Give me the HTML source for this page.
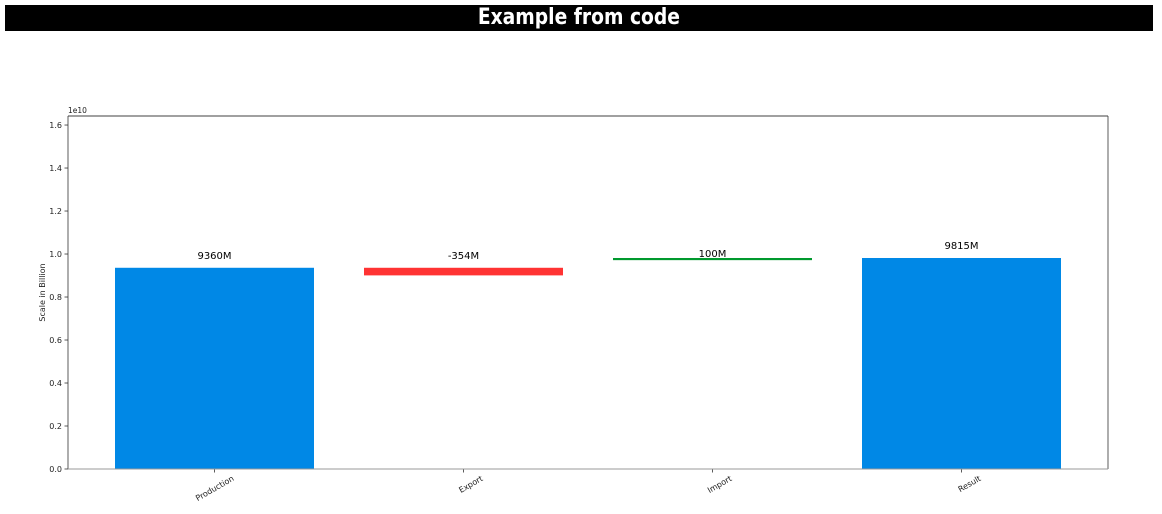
<!DOCTYPE html>
<html><head><meta charset="utf-8"><style>
body{margin:0;width:1162px;height:514px;background:#fff;overflow:hidden;font-family:"DejaVu Sans","Liberation Sans",sans-serif}
#title{position:absolute;left:5px;top:5px;width:1148px;height:26px;background:#000;color:#fff;text-align:center;line-height:27px}
#title span{display:inline-block;font:bold 22px "DejaVu Sans","Liberation Sans",sans-serif;transform:scaleX(0.85)}
svg{position:absolute;left:0;top:0}
</style></head><body>
<div id="title"><span>Example from code</span></div>
<svg id="c" width="1162" height="514"></svg>
<script>
const categories=["Production","Export","Import","Result"];
const bases=[0,9006e6,9715e6,0];
const heights=[9360e6,354e6,100e6,9815e6];
const labels=["9360M","-354M","100M","9815M"];
const labelTops=[9360e6,9360e6,9450e6,9815e6];
const colors=["#0088e6","#ff3333","#00992e","#0088e6"];
const yTicks=[0,0.2,0.4,0.6,0.8,1.0,1.2,1.4,1.6];
const L=68,R=1108,T=116,B=469,yMax=1.642e10;
const y=v=>B-(v/yMax)*(B-T);
const step=249,x0=214.5,bw=199;
const x=i=>x0+i*step;
const s=document.getElementById('c');
const NS="http://www.w3.org/2000/svg";
function mk(t,a){const e=document.createElementNS(NS,t);for(const k in a)e.setAttribute(k,a[k]);s.appendChild(e);return e;}
categories.forEach((c,i)=>{
 const top=y(bases[i]+heights[i]),bot=y(bases[i]);
 const r=mk('rect',{x:x(i)-bw/2,y:top,width:bw,height:Math.max(bot-top,2),fill:colors[i]});
 
 
 const t=mk('text',{x:x(i),y:y(labelTops[i])-9,'text-anchor':'middle','font-size':'10',fill:'#000'});
 t.textContent=labels[i];
 
 
 mk('line',{x1:x(i),x2:x(i),y1:B,y2:B+3.5,stroke:'#333','stroke-width':0.8});
 const xl=mk('text',{x:0,y:0,'text-anchor':'end','font-size':'8',fill:'#222',transform:`translate(${x(i)+20},${B+11}) rotate(-30)`});
 xl.textContent=c;
 
 
});
yTicks.forEach(v=>{
 const yy=y(v*1e10);
 mk('line',{x1:L-3.5,x2:L,y1:yy,y2:yy,stroke:'#333','stroke-width':0.8});
 const t=mk('text',{x:L-6,y:yy+3,'text-anchor':'end','font-size':'8',fill:'#222'});
 t.textContent=v.toFixed(1);
 
 
});
mk('line',{x1:L,x2:R,y1:T,y2:T,stroke:'#000','stroke-width':0.8});
mk('line',{x1:L,x2:L,y1:T,y2:B,stroke:'#333','stroke-width':0.8});
mk('line',{x1:R,x2:R,y1:T,y2:B,stroke:'#333','stroke-width':0.8});
mk('line',{x1:L,x2:R,y1:B,y2:B,stroke:'#999','stroke-width':1});
const e=mk('text',{x:L,y:T-3,'font-size':'7.5',fill:'#222'});e.textContent='1e10';


const yt=mk('text',{x:0,y:0,'text-anchor':'middle','font-size':'8',fill:'#222',transform:`translate(45,${(T+B)/2}) rotate(-90)`});
yt.textContent='Scale in Billion';


</script>
</body></html>
